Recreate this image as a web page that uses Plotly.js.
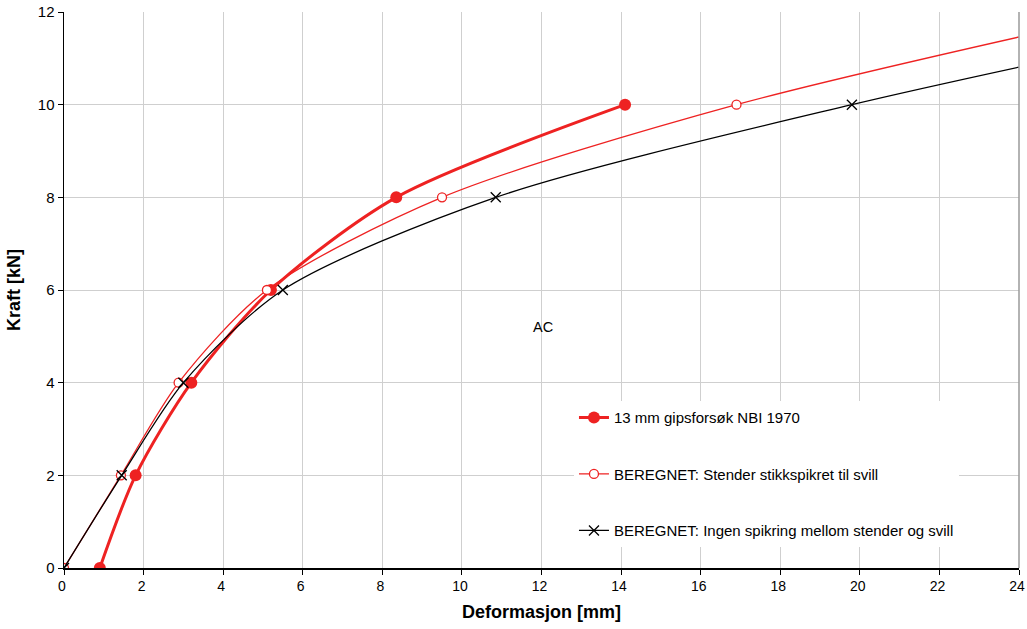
<!DOCTYPE html>
<html>
<head>
<meta charset="utf-8">
<script src="https://cdn.plot.ly/plotly-3.0.1.min.js"></script>
<style>html,body{margin:0;padding:0;background:#fff}#chart{width:1027px;height:629px}</style>
</head>
<body>
<div id="chart"></div>
<script>
// Load–deformation curves (force in kN vs. deformation in mm)
const testName = '13 mm gipsforsøk NBI 1970';
const testDef = [0.9, 1.8, 3.2, 5.2, 8.35, 14.1];
const testForce = [0, 2, 4, 6, 8, 10];

const calcAName = 'BEREGNET: Stender stikkspikret til svill';
const calcADef = [0, 1.43, 2.88, 5.1, 9.5, 16.9, 26.8];
const calcAForce = [0, 2, 4, 6, 8, 10, 12];

const calcBName = 'BEREGNET: Ingen spikring mellom stender og svill';
const calcBDef = [0, 1.45, 3.0, 5.5, 10.85, 19.8, 30.5];
const calcBForce = [0, 2, 4, 6, 8, 10, 12];

const xTicks = [0, 2, 4, 6, 8, 10, 12, 14, 16, 18, 20, 22, 24];
const yTicks = [0, 2, 4, 6, 8, 10, 12];

const RED = '#ee2222';
const FONT = 'Liberation Sans, Arial, sans-serif';

const traces = [
  {
    x: testDef, y: testForce, name: testName, type: 'scatter', mode: 'lines+markers',
    line: {color: RED, width: 3, shape: 'spline', smoothing: 0.8},
    marker: {symbol: 'circle', size: 12, color: RED},
    legendgroup: 'a'
  },
  {
    x: calcADef, y: calcAForce, name: calcAName, type: 'scatter', mode: 'lines+markers',
    line: {color: RED, width: 1.3, shape: 'spline', smoothing: 0.8},
    marker: {symbol: 'circle', size: 9, color: '#ffffff', line: {color: RED, width: 1.3}},
    legendgroup: 'b'
  },
  {
    x: calcBDef, y: calcBForce, name: calcBName, type: 'scatter', mode: 'lines+markers',
    line: {color: '#000000', width: 1.3, shape: 'spline', smoothing: 0.8},
    marker: {symbol: 'x-thin', size: 10, color: '#000000', line: {color: '#000000', width: 1.3}},
    legendgroup: 'c'
  }
];

const layout = {
  width: 1027, height: 629,
  margin: {l: 64, r: 8, t: 12, b: 61},
  paper_bgcolor: '#ffffff', plot_bgcolor: '#ffffff',
  font: {family: FONT, size: 14, color: '#000'},
  showlegend: true,
  legend: {
    x: 0.534, y: 0.30, xanchor: 'left', yanchor: 'top',
    bgcolor: '#ffffff', borderwidth: 0,
    font: {family: FONT, size: 15, color: '#000'},
    tracegroupgap: 34, itemsizing: 'trace', itemwidth: 30
  },
  xaxis: {
    range: [0, 24], tickvals: xTicks, ticktext: xTicks.map(String),
    showgrid: true, gridcolor: '#cfcfcf', gridwidth: 1,
    showline: true, linecolor: '#000', linewidth: 1.5,
    ticks: 'outside', ticklen: 5, tickcolor: '#000',
    zeroline: false, mirror: false, ticklabelshift: -2,
    tickfont: {family: FONT, size: 14},
    title: {text: '<b>Deformasjon [mm]</b>', font: {family: FONT, size: 18}, standoff: 12}
  },
  yaxis: {
    range: [0, 12], tickvals: yTicks, ticktext: yTicks.map(String),
    showgrid: true, gridcolor: '#cfcfcf', gridwidth: 1,
    showline: true, linecolor: '#000', linewidth: 1.5,
    ticks: 'outside', ticklen: 5, tickcolor: '#000',
    zeroline: false, ticklabeloverflow: 'allow',
    tickfont: {family: FONT, size: 15},
    title: {text: '<b>Kraft [kN]</b>', font: {family: FONT, size: 18}, standoff: 12}
  },
  shapes: [
    {type: 'line', xref: 'paper', yref: 'paper', x0: 1, x1: 1, y0: 0, y1: 1, line: {color: '#9a9a9a', width: 1.5}}
  ],
  annotations: [
    {x: 12.05, y: 5.2, xref: 'x', yref: 'y', text: 'AC', showarrow: false, font: {family: FONT, size: 14.5}}
  ]
};

Plotly.newPlot('chart', traces, layout, {displayModeBar: false, staticPlot: true});
</script>
</body>
</html>
